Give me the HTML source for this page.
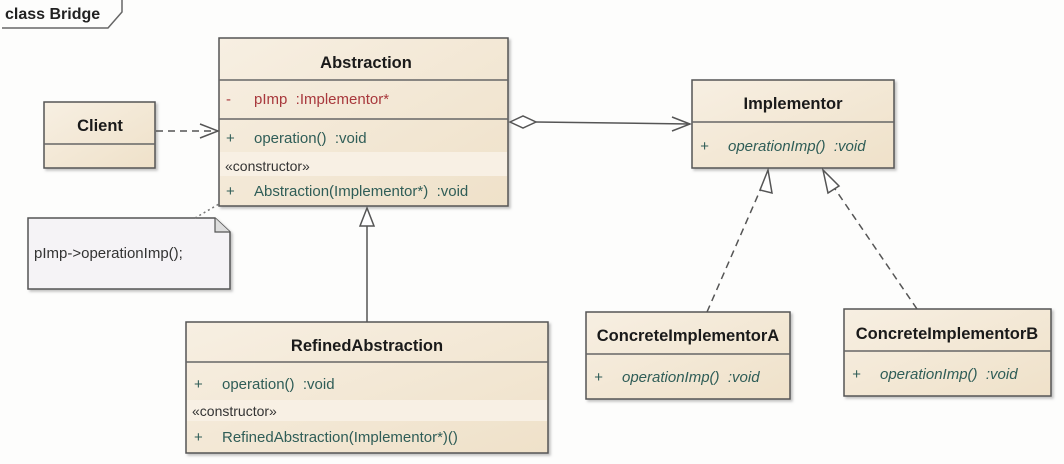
<!DOCTYPE html>
<html><head><meta charset="utf-8"><style>
html,body{margin:0;padding:0;background:#fdfdfc;}
svg{display:block;}
text{font-family:"Liberation Sans",sans-serif;white-space:pre;}
.t{font-weight:bold;font-size:16.5px;fill:#1a1a1a;text-anchor:middle;}
.m{font-size:15px;fill:#2f5d57;}
.r{font-size:15px;fill:#a8383c;}
.k{font-size:14px;fill:#333;}
.i{font-size:15px;fill:#2f5d57;font-style:italic;}
</style></head><body>
<svg width="1064" height="464" viewBox="0 0 1064 464" xmlns="http://www.w3.org/2000/svg" xml:space="preserve">
<defs>
<linearGradient id="g" x1="0" y1="0" x2="1" y2="1">
<stop offset="0" stop-color="#f7efe2"/><stop offset="1" stop-color="#efe1c9"/></linearGradient>
<filter id="s" x="-5%" y="-5%" width="115%" height="120%"><feDropShadow dx="2" dy="2" stdDeviation="1.2" flood-color="#999" flood-opacity="0.6"/></filter>
</defs>
<path d="M2 28 L108 28 L122 12 L122 0" fill="none" stroke="#666" stroke-width="1.5"/>
<text x="5" y="19" style="font-weight:bold;font-size:16px;fill:#222">class Bridge</text>

<rect x="44" y="102" width="111" height="66" fill="url(#g)" stroke="#555" stroke-width="1.5" filter="url(#s)"/>
<line x1="44" y1="144" x2="155" y2="144" stroke="#666" stroke-width="1.5"/>
<text class="t" x="100" y="131">Client</text>

<rect x="219" y="38" width="289" height="168" fill="url(#g)" stroke="#555" stroke-width="1.5" filter="url(#s)"/>
<rect x="220" y="152" width="287" height="24" fill="#f8f0e4"/>
<line x1="219" y1="80" x2="508" y2="80" stroke="#666" stroke-width="1.5"/>
<line x1="219" y1="119" x2="508" y2="119" stroke="#666" stroke-width="1.5"/>
<text class="t" x="366" y="68">Abstraction</text>
<text class="r" x="226" y="104">-</text><text class="r" x="254" y="104">pImp  :Implementor*</text>
<text class="m" x="226" y="143">+</text><text class="m" x="254" y="143">operation()  :void</text>
<text class="k" x="225" y="171">«constructor»</text>
<text class="m" x="226" y="196">+</text><text class="m" x="254" y="196">Abstraction(Implementor*)  :void</text>

<path d="M28 218 L215 218 L230 232 L230 289 L28 289 Z" fill="#f5f3f6" stroke="#555" stroke-width="1.5" filter="url(#s)"/>
<path d="M215 218 L215 232 L230 232" fill="#ddd" stroke="#555" stroke-width="1.2"/>
<text x="34" y="258" style="font-size:15px;fill:#333">pImp-&gt;operationImp();</text>
<line x1="195" y1="218" x2="219" y2="204" stroke="#777" stroke-width="1.5" stroke-dasharray="2,3"/>

<line x1="156" y1="131" x2="218" y2="131" stroke="#555" stroke-width="1.5" stroke-dasharray="7,5"/>
<path d="M200 124 L218 131 L200 138" fill="none" stroke="#555" stroke-width="1.5"/>

<rect x="692" y="80" width="202" height="88" fill="url(#g)" stroke="#555" stroke-width="1.5" filter="url(#s)"/>
<line x1="692" y1="122" x2="894" y2="122" stroke="#666" stroke-width="1.5"/>
<text class="t" x="793" y="109">Implementor</text>
<text class="i" x="700" y="151">+</text><text class="i" x="728" y="151">operationImp()  :void</text>

<path d="M510 122 L523 116 L536 122 L523 128 Z" fill="#fff" stroke="#555" stroke-width="1.5"/>
<line x1="536" y1="122" x2="690" y2="124" stroke="#555" stroke-width="1.5"/>
<path d="M672 117 L690 124 L672 131" fill="none" stroke="#555" stroke-width="1.5"/>

<rect x="586" y="312" width="204" height="87" fill="url(#g)" stroke="#555" stroke-width="1.5" filter="url(#s)"/>
<line x1="586" y1="354" x2="790" y2="354" stroke="#666" stroke-width="1.5"/>
<text class="t" x="688" y="341">ConcreteImplementorA</text>
<text class="i" x="594" y="382">+</text><text class="i" x="622" y="382">operationImp()  :void</text>

<rect x="844" y="309" width="207" height="87" fill="url(#g)" stroke="#555" stroke-width="1.5" filter="url(#s)"/>
<line x1="844" y1="351" x2="1051" y2="351" stroke="#666" stroke-width="1.5"/>
<text class="t" x="947" y="339">ConcreteImplementorB</text>
<text class="i" x="852" y="379">+</text><text class="i" x="880" y="379">operationImp()  :void</text>

<line x1="707" y1="312" x2="762" y2="186" stroke="#555" stroke-width="1.5" stroke-dasharray="7,5"/>
<path d="M768 170 L760 190 L772 193 Z" fill="#fff" stroke="#555" stroke-width="1.5"/>
<line x1="917" y1="309" x2="833" y2="186" stroke="#555" stroke-width="1.5" stroke-dasharray="7,5"/>
<path d="M823 170 L828 193 L839 186 Z" fill="#fff" stroke="#555" stroke-width="1.5"/>

<rect x="186" y="322" width="362" height="131" fill="url(#g)" stroke="#555" stroke-width="1.5" filter="url(#s)"/>
<rect x="187" y="400" width="360" height="21" fill="#f8f0e4"/>
<line x1="186" y1="362" x2="548" y2="362" stroke="#666" stroke-width="1.5"/>
<text class="t" x="367" y="351">RefinedAbstraction</text>
<text class="m" x="194" y="389">+</text><text class="m" x="222" y="389">operation()  :void</text>
<text class="k" x="192" y="416">«constructor»</text>
<text class="m" x="194" y="442">+</text><text class="m" x="222" y="442">RefinedAbstraction(Implementor*)()</text>

<line x1="367" y1="322" x2="367" y2="226" stroke="#555" stroke-width="1.5"/>
<path d="M367 208 L360 226 L374 226 Z" fill="#fff" stroke="#555" stroke-width="1.5"/>
</svg>
</body></html>
